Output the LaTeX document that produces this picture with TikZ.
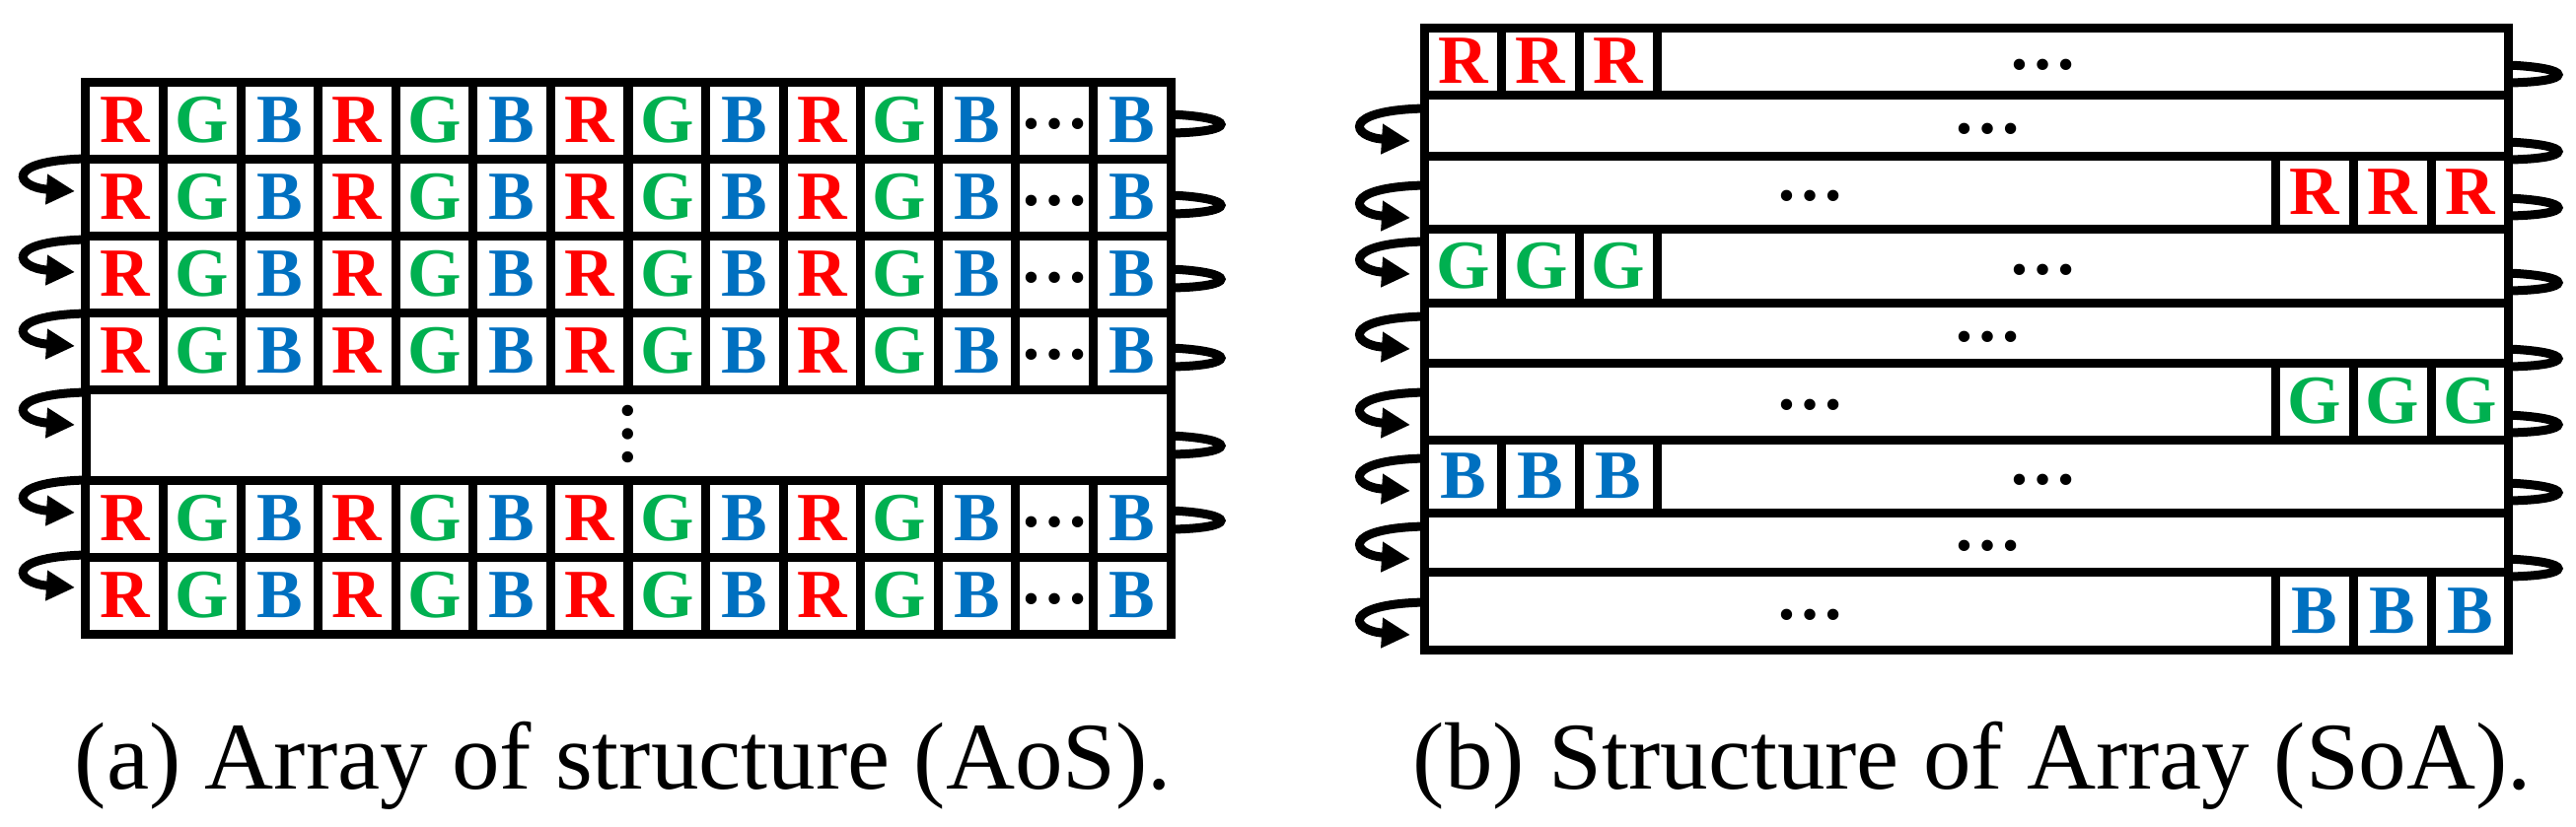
\documentclass[tikz,border=0pt]{standalone}
\usepackage{fontspec}
\setmainfont{Liberation Serif}
\usetikzlibrary{arrows.meta, positioning, calc}
\definecolor{chR}{RGB}{255,0,0}
\definecolor{chG}{RGB}{0,176,80}
\definecolor{chB}{RGB}{0,112,192}

\begin{document}
\begin{tikzpicture}[
            x=0.1mm, y=-0.1mm,
            cell/.style={draw, line width=0.9mm, minimum width=7.86mm, minimum height=7.8mm, inner sep=0pt, font=\fontsize{19.9pt}{20pt}\selectfont\bfseries},
            band/.style={draw, line width=0.9mm, inner sep=0pt},
            dots/.style={inner sep=0pt, font=\fontsize{19.9pt}{20pt}\selectfont\bfseries},
            wrap/.style={line width=0.9mm, -{Triangle[length=2.9mm, width=2.9mm]}},
            loopline/.style={line width=0.9mm},
            caption/.style={anchor=base, font=\fontsize{27.6pt}{30pt}\selectfont}
        ]
            \useasboundingbox (0,0) rectangle (2612,838);

            % (a) array of structure
            \foreach \rw/\yc in {1/122,2/200,3/278,4/356,6/526,7/604} {
                \foreach \c in {0,...,3} {
                    \node[cell, text=chR] (aos-\rw-R\c) at ({87+(3*\c+0.5)*78.57},\yc) {R};
                    \node[cell, text=chG] (aos-\rw-G\c) at ({87+(3*\c+1.5)*78.57},\yc) {G};
                    \node[cell, text=chB] (aos-\rw-B\c) at ({87+(3*\c+2.5)*78.57},\yc) {B};
                }
                \node[cell] (aos-\rw-gap) at ({87+12.5*78.57},\yc) {};
                \node[dots, yshift=-0.4mm] (aos-\rw-dots) at (aos-\rw-gap) {…};
                \node[cell, text=chB] (aos-\rw-last) at ({87+13.5*78.57},\yc) {B};
            }
            \node[band, minimum width=110mm, minimum height=9.2mm] (aos-5) at (637,441) {};
            \node[dots, rotate=90] (aos-vdots) at (aos-5) {…};

            \foreach \yy [count=\i] in {161,243,318,398,487,563} {
                \coordinate (aos-out\i) at (1187,\yy-45);
                \coordinate (aos-back\i) at (1187,\yy-26);
                \coordinate (aos-in\i) at (87,\yy);
                \coordinate (aos-tip\i) at (76,\yy+33);
                \draw[loopline] (aos-out\i) .. controls +(68,3) and +(68,-1) .. (aos-back\i);
                \draw[wrap] (aos-in\i) .. controls +(-85,2) and +(-60,-4) .. (aos-tip\i);
            }

            % (b) structure of array
            \foreach \rw/\ytop/\ybot/\dx in {1/28/96/2071, 2/96/158/2015, 3/158/232/1835, 4/232/307/2071, 5/307/368/2015, 6/368/446/1835, 7/446/520/2071, 8/520/580/2015, 9/580/659/1835} {
                \node[band, minimum width=109.9mm, minimum height={(\ybot-\ytop)*0.1mm}] (soa-\rw) at (1993.5,{(\ytop+\ybot)/2}) {};
                \node[dots, yshift=-0.4mm] (soa-\rw-dots) at (\dx,{(\ytop+\ybot)/2}) {…};
            }
            \foreach \rw/\ytop/\ybot/\xl/\ch/\clr in {1/28/96/1444/R/chR, 3/158/232/2307.5/R/chR, 4/232/307/1444/G/chG, 6/368/446/2307.5/G/chG, 7/446/520/1444/B/chB, 9/580/659/2307.5/B/chB} {
                \foreach \j in {0,1,2} {
                    \node[cell, text=\clr, minimum width=7.88mm, minimum height={(\ybot-\ytop)*0.1mm}] (soa-\rw-\j) at ({\xl+(\j+0.5)*78.8},{(\ytop+\ybot)/2}) {\ch};
                }
            }

            \foreach \yy [count=\i] in {110,188,245,321,398,465,534,611} {
                \coordinate (soa-out\i) at (2543,\yy-44);
                \coordinate (soa-back\i) at (2543,\yy-26);
                \coordinate (soa-in\i) at (1444,\yy);
                \coordinate (soa-tip\i) at (1430,\yy+33);
                \draw[loopline] (soa-out\i) .. controls +(68,3) and +(68,-1) .. (soa-back\i);
                \draw[wrap] (soa-in\i) .. controls +(-85,2) and +(-60,-4) .. (soa-tip\i);
            }

            \node[caption] (cap-aos) at (632,800) {(a) Array of structure (AoS).};
            \node[caption] (cap-soa) at (2000,800) {(b) Structure of Array (SoA).};
        \end{tikzpicture}
\end{document}
